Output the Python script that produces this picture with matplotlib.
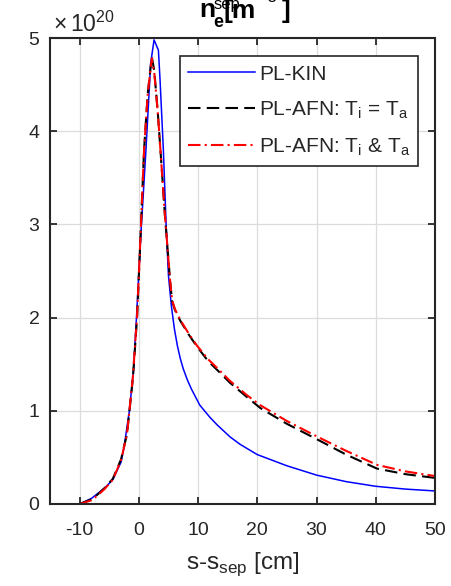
import matplotlib.pyplot as plt
from matplotlib.ticker import ScalarFormatter

# position along separatrix [cm], density [1e20 m^-3]
x_kin = [-10, -8, -7, -5.8, -4.4, -3, -2.5, -1.6, -0.9, -0.4, 0.3, 1.2, 2.0, 2.57,
         3.3, 3.58, 4.14, 4.6, 5.0, 5.5, 6.0, 6.5, 7.0, 7.5, 8.2, 8.9, 10.3, 12.0, 13.2,
         15.4, 17.1, 20, 25, 30, 35, 40, 45, 50]
n_kin = [0, 0.06, 0.11, 0.17, 0.26, 0.45, 0.61, 1.0, 1.44, 2.0, 2.85, 3.8, 4.73, 4.98,
         4.87, 4.55, 3.8, 3.0, 2.45, 2.12, 1.88, 1.70, 1.56, 1.45, 1.33, 1.23, 1.06, 0.93, 0.85,
         0.72, 0.64, 0.53, 0.41, 0.31, 0.24, 0.19, 0.16, 0.14]

x_afn = [-10, -8, -7, -5.8, -4.4, -3, -2, -1, -0.3, 0.3, 0.88, 1.5, 2.18, 2.6,
         3.2, 3.7, 4.4, 5.27, 5.6, 6.1, 6.96, 8.4, 9.8, 11.74, 13.2, 15.4, 18.2, 20.5,
         25, 30.2, 35, 40.2, 45, 50]
n_afn_eq = [0, 0.05, 0.1, 0.17, 0.27, 0.48, 0.75, 1.35, 2.0, 2.9, 3.8, 4.4, 4.80, 4.65,
            4.2, 3.75, 3.1, 2.4, 2.18, 2.08, 1.97, 1.82, 1.69, 1.53, 1.44, 1.30, 1.15, 1.03,
            0.86, 0.69, 0.53, 0.38, 0.32, 0.28]
n_afn_sep = [0, 0.04, 0.09, 0.16, 0.26, 0.47, 0.75, 1.37, 2.02, 2.9, 3.8, 4.4, 4.78, 4.63,
             4.2, 3.75, 3.1, 2.4, 2.19, 2.09, 1.98, 1.83, 1.70, 1.55, 1.46, 1.32, 1.17, 1.06,
             0.89, 0.72, 0.57, 0.42, 0.35, 0.30]

xticks = [-10, 0, 10, 20, 30, 40, 50]
yticks = [0, 1, 2, 3, 4, 5]

plt.rcParams['font.family'] = ['Liberation Sans', 'DejaVu Sans']
plt.rcParams['mathtext.fontset'] = 'custom'
plt.rcParams['mathtext.rm'] = 'Liberation Sans'
plt.rcParams['mathtext.bf'] = 'Liberation Sans:bold'
plt.rcParams['axes.unicode_minus'] = False
dark = '#262626'

W, H = 452, 586
fig = plt.figure(figsize=(W / 100, H / 100), dpi=100)
ax = fig.add_axes([50 / W, 1 - 504 / H, 385 / W, 466 / H])

sc = 1e20
ax.plot(x_kin, [v * sc for v in n_kin], color='#0000ff', lw=1.1, label='PL-KIN')
ax.plot(x_afn, [v * sc for v in n_afn_eq], color='black', lw=1.5, ls=(0, (6, 3)),
        label=r'PL-AFN: T$_\mathregular{i}$ = T$_\mathregular{a}$')
ax.plot(x_afn, [v * sc for v in n_afn_sep], color='#ff0000', lw=1.5, ls=(0, (6, 2, 1, 2)),
        label=r'PL-AFN: T$_\mathregular{i}$ & T$_\mathregular{a}$')

ax.set_xlim(-15, 50)
ax.set_ylim(0, 5e20)
ax.set_xticks(xticks)
ax.set_yticks([t * sc for t in yticks])
ax.yaxis.set_major_formatter(ScalarFormatter(useMathText=True))

ax.grid(True, color='#dcdcdc', lw=0.9)
ax.tick_params(direction='in', length=5, width=1.3, labelsize=14, colors=dark,
               top=True, right=True)
ax.tick_params(axis='x', pad=13)
ax.tick_params(axis='y', pad=7)
ax.yaxis.get_offset_text().set_visible(False)
ax.text(0.008, 1.014, r'$\times\,$10$^{20}$', transform=ax.transAxes, fontsize=16.5,
        color=dark, ha='left', va='baseline')
for s in ax.spines.values():
    s.set_color(dark)
    s.set_linewidth(1.5)

ax.set_xlabel('s-s$_\\mathregular{sep}$ [cm]', fontsize=17.5, color=dark, labelpad=8)

leg = ax.legend(loc='upper right', bbox_to_anchor=(0.957, 0.961), fontsize=15,
                fancybox=False, framealpha=1, edgecolor=dark, handlelength=3.2,
                borderpad=0.4, labelspacing=0.75, handletextpad=0.2, borderaxespad=0)
leg.get_frame().set_linewidth(1.2)
for t in leg.get_texts():
    t.set_color(dark)


# clipped title at the top, pieces overlap as in the original
def ptext(px, py, s, size, weight='bold'):
    fig.text(px / W, 1 - py / H, s, fontsize=size, fontweight=weight,
             ha='left', va='baseline', color='black')


ptext(199, 17, 'n', 19)
ptext(213, 27, 'e', 13)
ptext(214, 9, 'sep', 12, 'normal')
ptext(224, 18, '[m', 19)
ptext(262, 2, '-3', 12, 'normal')
ptext(282, 18, ']', 19)

fig.savefig('out.png', dpi=100)
